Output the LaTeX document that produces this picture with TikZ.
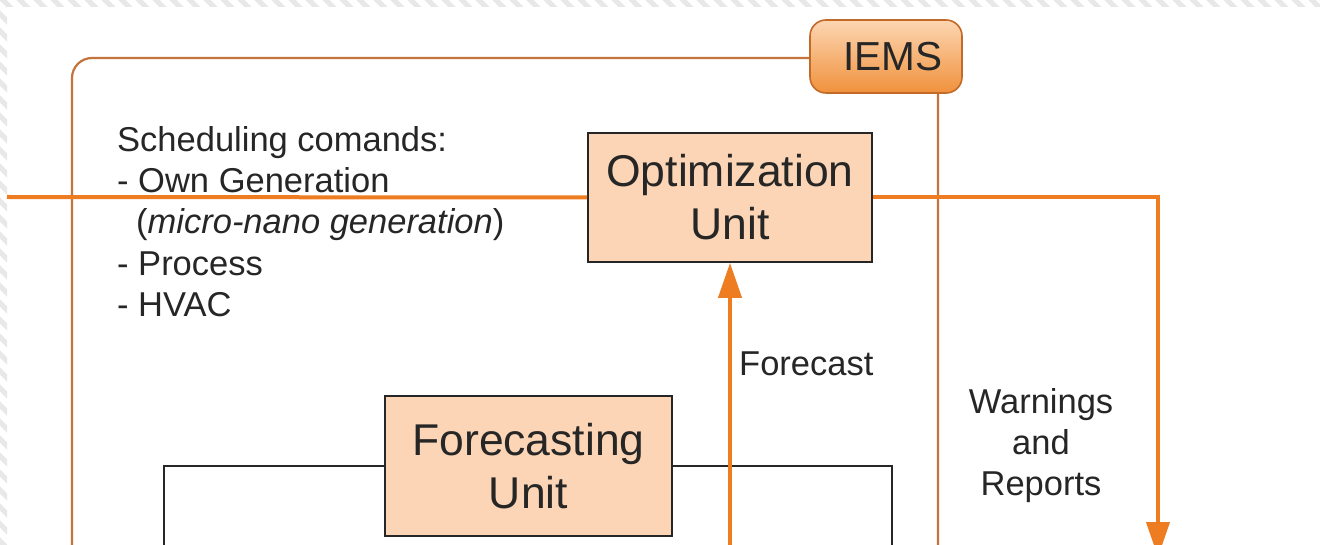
\documentclass[tikz,border=0pt]{standalone}
\usepackage{fontspec}
\setmainfont{Liberation Sans}
\usetikzlibrary{arrows.meta}

\definecolor{frameline}{HTML}{C4733A}
\definecolor{flow}{HTML}{EE7D22}
\definecolor{unitfill}{HTML}{FBD5B5}
\definecolor{tagtop}{HTML}{FCD6B2}
\definecolor{tagbot}{HTML}{F0913C}
\definecolor{tagline}{HTML}{C46A28}
\definecolor{hatch}{HTML}{E8E8E8}
\definecolor{ink}{HTML}{262626}

\begin{document}
\begin{tikzpicture}[x=1pt,y=-1pt,
  unit/.style={draw=ink, line width=1.7pt, fill=unitfill, align=center,
    text=ink, font=\fontsize{44.5}{53}\selectfont, inner sep=0pt},
  tag/.style={draw=tagline, line width=1.6pt, rounded corners=16pt,
    top color=tagtop, bottom color=tagbot, text=ink, inner sep=0pt,
    font=\fontsize{40.5}{46}\selectfont, minimum width=152pt, minimum height=73pt},
  flowline/.style={draw=flow, line width=4pt},
  flowtip/.style={-{Triangle[length=35pt,width=23pt]}},
  lbl/.style={font=\fontsize{34.5}{41}\selectfont, inner sep=0pt, text=ink},
]
\useasboundingbox (0,0) rectangle (1320,545);
\clip (0,0) rectangle (1320,545);
\fill[white] (0,0) rectangle (1320,545);

% hatched margin along the top and left edges
\begin{scope}
  \clip (0,0) rectangle (1320,7) (0,0) rectangle (7,545);
  \foreach \i in {-45,...,82}
    \draw[hatch, line width=5pt] (\i*17,-20) -- ++(620,620);
\end{scope}

% IEMS frame
\draw[frameline, line width=2.2pt, rounded corners=20pt]
  (938,620) -- (938,58) -- (72,58) -- (72,620);
\node[tag] (iems) at (886,56.5) {\hspace*{14pt}IEMS};

% inner system frame around the forecasting unit
\coordinate (boxL) at (164,620);
\coordinate (boxR) at (892,620);
\node[unit, minimum width=287pt, minimum height=140pt] (fc) at (528.5,466) {Forecasting\\Unit};
\draw[ink, line width=1.8pt] (boxL) |- (fc.west);
\draw[ink, line width=1.8pt] (fc.east) -| (boxR);

% optimization unit
\node[unit, minimum width=284pt, minimum height=129pt] (opt) at (730,197.5) {Optimization\\Unit};

% flows
\coordinate (cmdIn) at (7,197);
\coordinate (warnOut) at (1158,557);
\coordinate (fcastIn) at (730,620);
\draw[flowline] (cmdIn) -- (opt.west);
\draw[flowline, flowtip] (opt.east) -- (opt.east -| warnOut) -- (warnOut);
\draw[flowline, flowtip] (fcastIn) -- (opt.south);

% labels
\node[lbl, anchor=base west] (cmd1) at (117,152) {Scheduling comands:};
\node[lbl, anchor=base west] (cmd2) at (117,193) {- Own Generation};
\node[lbl, anchor=base west] (cmd3) at (136,234) {(\textit{micro-nano generation})};
\node[lbl, anchor=base west] (cmd4) at (117,276) {- Process};
\node[lbl, anchor=base west] (cmd5) at (117,317) {- HVAC};
\node[lbl, anchor=base west] (fcast) at (739,375) {Forecast};
\node[lbl, align=center] (warn) at (1041,446) {Warnings\\and\\Reports};
\end{tikzpicture}
\end{document}
